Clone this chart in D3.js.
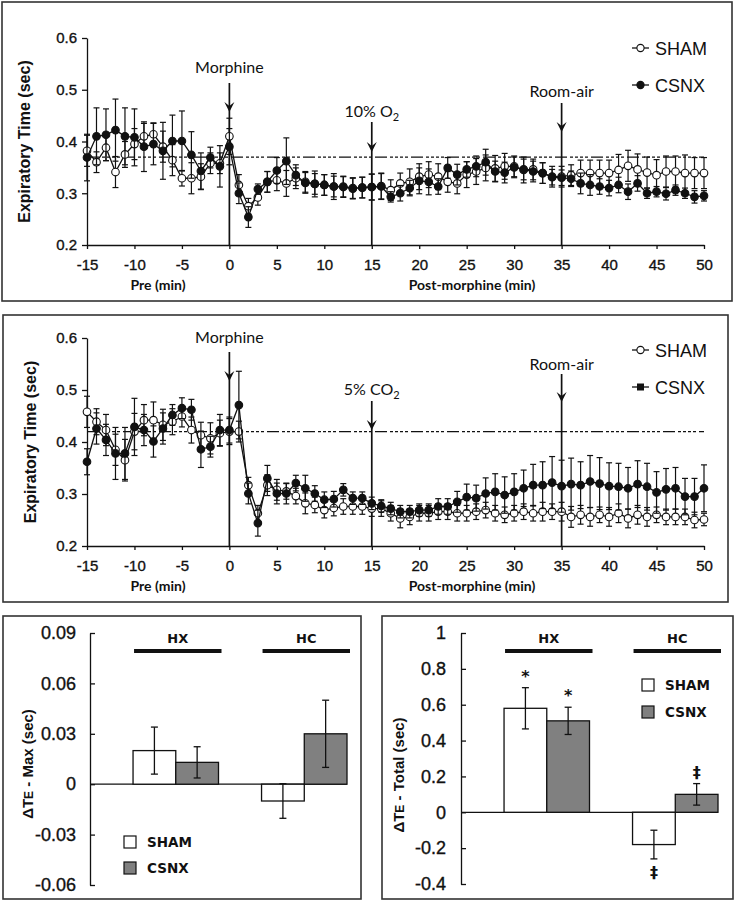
<!DOCTYPE html>
<html><head><meta charset="utf-8">
<script src="https://cdn.jsdelivr.net/npm/d3@7"></script>
<style>
body{margin:0;background:#fff}
text{font-family:"Liberation Sans",Arial,sans-serif;fill:#111}
.cal{font-family:Lato,"Open Sans",sans-serif}
.ver{font-family:"DejaVu Sans",Verdana,sans-serif}
</style>
</head><body>
<svg id="c" width="735" height="901" xmlns="http://www.w3.org/2000/svg"></svg>
<script>
// ---------------- DATA ----------------
const minutes = d3.range(-15, 51); // category axis: -15 ... 50 min
const xTicks = [-15,-10,-5,0,5,10,15,20,25,30,35,40,45,50];
const yTicksTE = [0.2,0.3,0.4,0.5,0.6];

// Panel A (10% O2)
const aSham = [0.382,0.360,0.388,0.341,0.375,0.395,0.410,0.414,0.390,0.364,0.329,0.329,0.332,0.358,0.358,0.410,
  0.316,0.275,0.292,0.322,0.325,0.319,0.329,0.322,0.318,0.316,0.313,0.313,0.310,0.311,
  0.312,0.314,0.306,0.319,0.322,0.332,0.336,0.332,0.322,0.319,0.336,0.342,0.349,0.348,0.352,0.352,0.345,0.346,0.339,0.332,0.332,0.335,0.339,0.339,0.339,0.339,0.345,0.353,0.346,0.340,0.335,0.342,0.342,0.339,0.339,0.339];
const aShamErr = [0.030,0.020,0.025,0.030,0.025,0.030,0.025,0.022,0.030,0.030,0.015,0.030,0.025,0.020,0.020,0.035,
  0.020,0.015,0.015,0.020,0.020,0.025,0.020,0.020,0.020,0.020,0.020,0.020,0.020,0.020,
  0.025,0.025,0.020,0.020,0.025,0.025,0.025,0.025,0.020,0.020,0.025,0.025,0.025,0.025,0.025,0.020,0.025,0.020,0.020,0.020,0.020,0.020,0.025,0.025,0.025,0.025,0.030,0.030,0.030,0.030,0.030,0.030,0.030,0.035,0.030,0.030];
const aCsnx = [0.369,0.410,0.413,0.422,0.410,0.408,0.390,0.395,0.382,0.401,0.401,0.374,0.343,0.369,0.352,0.390,
  0.300,0.254,0.308,0.322,0.344,0.362,0.335,0.320,0.318,0.316,0.313,0.312,0.309,0.311,
  0.312,0.313,0.293,0.300,0.310,0.324,0.322,0.313,0.349,0.336,0.346,0.352,0.360,0.342,0.340,0.350,0.346,0.342,0.339,0.331,0.330,0.328,0.319,0.316,0.313,0.310,0.316,0.303,0.319,0.300,0.303,0.299,0.306,0.300,0.293,0.295];
const aCsnxErr = [0.045,0.055,0.050,0.060,0.055,0.055,0.048,0.040,0.055,0.050,0.058,0.045,0.035,0.020,0.040,0.035,
  0.020,0.020,0.010,0.020,0.025,0.045,0.020,0.020,0.025,0.020,0.025,0.020,0.020,0.020,
  0.025,0.025,0.010,0.015,0.015,0.025,0.025,0.015,0.020,0.020,0.015,0.020,0.025,0.020,0.020,0.020,0.020,0.020,0.020,0.015,0.015,0.015,0.020,0.020,0.015,0.015,0.015,0.015,0.015,0.010,0.010,0.012,0.010,0.010,0.012,0.010];

// Panel B (5% CO2)
const bSham = [0.458,0.439,0.423,0.385,0.365,0.420,0.442,0.442,0.433,0.439,0.449,0.423,0.413,0.407,0.417,0.420,
  0.420,0.317,0.263,0.317,0.308,0.305,0.296,0.282,0.279,0.269,0.273,0.276,0.276,0.276,
  0.272,0.272,0.263,0.253,0.256,0.263,0.263,0.266,0.266,0.263,0.263,0.266,0.269,0.263,0.260,0.263,0.266,0.263,0.266,0.266,0.266,0.256,0.260,0.256,0.260,0.256,0.263,0.253,0.260,0.256,0.260,0.256,0.256,0.256,0.250,0.251];
const bShamErr = [0.030,0.025,0.030,0.030,0.040,0.035,0.030,0.035,0.030,0.025,0.020,0.025,0.025,0.030,0.025,0.025,
  0.020,0.015,0.015,0.020,0.020,0.015,0.015,0.020,0.015,0.015,0.015,0.015,0.015,0.015,
  0.015,0.015,0.015,0.018,0.015,0.015,0.015,0.015,0.015,0.015,0.015,0.015,0.015,0.015,0.015,0.015,0.015,0.015,0.018,0.015,0.018,0.020,0.018,0.018,0.015,0.018,0.018,0.018,0.018,0.018,0.015,0.015,0.015,0.015,0.015,0.012];
const bCsnx = [0.362,0.426,0.404,0.378,0.378,0.429,0.423,0.401,0.426,0.452,0.465,0.462,0.386,0.391,0.423,0.423,
  0.471,0.301,0.244,0.330,0.301,0.301,0.321,0.311,0.301,0.289,0.290,0.308,0.292,0.292,
  0.282,0.277,0.272,0.266,0.266,0.269,0.269,0.276,0.276,0.285,0.294,0.292,0.301,0.304,0.298,0.304,0.311,0.317,0.317,0.322,0.315,0.319,0.317,0.324,0.320,0.315,0.314,0.311,0.319,0.314,0.303,0.309,0.311,0.295,0.295,0.311];
const bCsnxErr = [0.025,0.030,0.030,0.050,0.050,0.055,0.030,0.030,0.030,0.020,0.020,0.020,0.035,0.020,0.030,0.025,
  0.065,0.020,0.025,0.025,0.020,0.020,0.015,0.025,0.015,0.015,0.015,0.012,0.012,0.012,
  0.012,0.012,0.012,0.012,0.012,0.012,0.012,0.015,0.015,0.020,
  0.025,0.025,0.030,0.035,0.035,0.035,0.035,0.040,0.045,0.050,0.050,0.050,0.045,0.050,0.050,0.045,0.045,0.040,0.045,0.045,0.040,0.040,0.040,0.035,0.035,0.045];

const eventTimes = [0, 15, 35];
const eventLabelsA = ["Morphine", "10% O", "Room-air"];
const eventLabelsB = ["Morphine", "5% CO", "Room-air"];
const baselineA = 0.37, baselineB = 0.42;

// Bar panels
const groups = ["HX", "HC"];
const barSeries = ["SHAM", "CSNX"];
const maxVals = [[0.020, 0.013], [-0.010, 0.030]];
const maxErrs = [[0.014, 0.0093], [0.0103, 0.020]];
const totVals = [[0.58, 0.51], [-0.18, 0.10]];
const totErrs = [[0.115, 0.076], [0.080, 0.060]];
const maxTicks = [-0.06, -0.03, 0, 0.03, 0.06, 0.09];
const maxTickLabels = ["-0.06", "-0.03", "0", "0.03", "0.06", "0.09"];
const totTicks = [-0.4, -0.2, 0, 0.2, 0.4, 0.6, 0.8, 1];
const totTickLabels = ["-0.4", "-0.2", "0", "0.2", "0.4", "0.6", "0.8", "1"];
const totMarks = [["*", "*"], ["‡", "‡"]];

// ---------------- DRAW ----------------
const svg = d3.select("#c");
const frame = (x0, y0, x1, y1) => svg.append("rect").attr("x", x0).attr("y", y0)
  .attr("width", x1 - x0).attr("height", y1 - y0).attr("fill", "none").attr("stroke", "#333").attr("stroke-width", 1.6);
frame(2, 2, 732, 301);
frame(3, 315, 728, 602);
frame(3, 616, 361, 899);
frame(382, 616, 733, 899);

function styleTicks(a, size) {
  a.selectAll("text").style("font-size", size).style("font-family", '"Liberation Sans",Arial,sans-serif')
    .attr("fill", "#111").attr("stroke", "#111").attr("stroke-width", 0.35);
  a.selectAll("path,line").attr("stroke", "#111").attr("stroke-width", 1.3);
}

function timePanel(cfg) {
  const g = svg.append("g");
  const x = d3.scaleLinear().domain([-15, 50]).range([87, 704]);
  const y = d3.scaleLinear().domain([0.2, 0.6]).range([cfg.y0, cfg.y1]);

  const ya = g.append("g").attr("transform", "translate(87,0)")
    .call(d3.axisLeft(y).tickValues(yTicksTE).tickFormat(d3.format(".1f")).tickSize(5).tickSizeOuter(0).tickPadding(5));
  styleTicks(ya, "15px");
  const xa = g.append("g").attr("transform", `translate(0,${cfg.y0})`)
    .call(d3.axisBottom(x).tickValues(xTicks).tickFormat(d => String(d)).tickSize(4).tickSizeOuter(0).tickPadding(10));
  styleTicks(xa, "15px");

  g.append("text").attr("transform", `translate(${cfg.titleX},${(cfg.y0 + cfg.y1) / 2}) rotate(-90)`)
    .attr("text-anchor", "middle").style("font-weight", "bold").style("font-size", "16px").text("Expiratory Time (sec)");
  g.append("text").attr("class", "cal").attr("x", 158).attr("y", cfg.y0 + 45).attr("text-anchor", "middle")
    .style("font-weight", "bold").style("font-size", "14px").attr("fill", "#222").text("Pre (min)");
  g.append("text").attr("class", "cal").attr("x", 472).attr("y", cfg.y0 + 45).attr("text-anchor", "middle")
    .style("font-weight", "bold").style("font-size", "14px").attr("fill", "#222").text("Post-morphine (min)");

  g.append("line").attr("x1", x(-15)).attr("x2", x(50)).attr("y1", y(cfg.baseline)).attr("y2", y(cfg.baseline))
    .attr("stroke", "#111").attr("stroke-width", 1.3).attr("stroke-dasharray", "12,3,3,2,3,2,3,2,3,3");

  eventTimes.forEach((t, i) => {
    const ex = x(t);
    g.append("line").attr("x1", ex).attr("x2", ex).attr("y1", cfg.evTop[i]).attr("y2", cfg.y0)
      .attr("stroke", "#111").attr("stroke-width", 1.7);
    const tip = cfg.evTip[i];
    g.append("path").attr("d", `M${ex - 5},${tip - 10} L${ex},${tip - 6} L${ex + 5},${tip - 10} L${ex},${tip} Z`)
      .attr("fill", "#111");
    const lab = g.append("text").attr("class", "cal").attr("x", ex).attr("y", cfg.evLabY[i]).attr("text-anchor", "middle")
      .style("font-size", "16px").attr("fill", "#222").text(cfg.labels[i]);
    if (i === 1) lab.append("tspan").attr("dy", 4).style("font-size", "11px").text("2");
  });

  const series = [
    { vals: cfg.sham, errs: cfg.shamErr, fill: "#fff" },
    { vals: cfg.csnx, errs: cfg.csnxErr, fill: "#111" }
  ];
  series.forEach(s => {
    const eg = g.append("g").attr("stroke", "#111").attr("stroke-width", 1.2);
    minutes.forEach((t, i) => {
      const cx = x(t), hi = y(s.vals[i] + s.errs[i]), lo = y(s.vals[i] - s.errs[i]);
      eg.append("line").attr("x1", cx).attr("x2", cx).attr("y1", hi).attr("y2", lo);
      eg.append("line").attr("x1", cx - 3).attr("x2", cx + 3).attr("y1", hi).attr("y2", hi);
      eg.append("line").attr("x1", cx - 3).attr("x2", cx + 3).attr("y1", lo).attr("y2", lo);
    });
    g.append("path").datum(minutes.map((t, i) => [t, s.vals[i]]))
      .attr("d", d3.line().x(d => x(d[0])).y(d => y(d[1])))
      .attr("fill", "none").attr("stroke", "#111").attr("stroke-width", 1.3);
    g.append("g").selectAll("circle").data(minutes.map((t, i) => [t, s.vals[i]])).join("circle")
      .attr("cx", d => x(d[0])).attr("cy", d => y(d[1])).attr("r", 3.8)
      .attr("fill", s.fill).attr("stroke", "#111").attr("stroke-width", 1.1);
  });

  const leg = [["SHAM", "#fff", cfg.legY[0]], ["CSNX", "#111", cfg.legY[1]]];
  leg.forEach(([name, fill, ly]) => {
    g.append("line").attr("x1", 632).attr("x2", 649).attr("y1", ly).attr("y2", ly).attr("stroke", "#111").attr("stroke-width", 1.3);
    if (name === "CSNX" && cfg.squareLegend)
      g.append("rect").attr("x", 637).attr("y", ly - 3.5).attr("width", 7).attr("height", 7).attr("fill", fill);
    else
      g.append("circle").attr("cx", 640.5).attr("cy", ly).attr("r", 3.6).attr("fill", fill).attr("stroke", "#111").attr("stroke-width", 1.1);
    g.append("text").attr("x", 655).attr("y", ly + 6.5).style("font-size", "18px").text(name);
  });
}

timePanel({ y0: 245, y1: 38, titleX: 30, baseline: baselineA, labels: eventLabelsA,
  sham: aSham, shamErr: aShamErr, csnx: aCsnx, csnxErr: aCsnxErr,
  evTop: [83, 122, 103], evTip: [112, 152, 132], evLabY: [73, 117, 97], legY: [48, 85], squareLegend: false });
timePanel({ y0: 546, y1: 338, titleX: 36, baseline: baselineB, labels: eventLabelsB,
  sham: bSham, shamErr: bShamErr, csnx: bCsnx, csnxErr: bCsnxErr,
  evTop: [352, 401, 374], evTip: [381, 430, 402], evLabY: [343, 395, 370], legY: [350, 387], squareLegend: true });

function barPanel(cfg) {
  const g = svg.append("g");
  const y = d3.scaleLinear().domain(cfg.domain).range([cfg.yb, cfg.yt]);
  const xg = d3.scaleBand().domain(groups).range([cfg.x0, cfg.x1]);
  const bw = xg.bandwidth();
  const xs = d3.scaleBand().domain(barSeries).range([bw * 0.335, bw]);

  const ya = g.append("g").attr("transform", `translate(${cfg.x0},0)`)
    .call(d3.axisLeft(y).tickValues(cfg.ticks).tickFormat((d, i) => cfg.tickLabels[i]).tickSize(-5).tickSizeOuter(0).tickPadding(cfg.pad));
  styleTicks(ya, "18px");

  g.append("line").attr("x1", cfg.x0).attr("x2", cfg.x1).attr("y1", y(0)).attr("y2", y(0)).attr("stroke", "#111").attr("stroke-width", 1.3);

  groups.forEach((grp, gi) => {
    barSeries.forEach((s, si) => {
      const v = cfg.vals[gi][si], e = cfg.errs[gi][si];
      const bx = xg(grp) + xs(s);
      g.append("rect").attr("x", bx).attr("width", xs.bandwidth())
        .attr("y", Math.min(y(v), y(0))).attr("height", Math.abs(y(v) - y(0)))
        .attr("fill", si === 0 ? "#fff" : "#808080").attr("stroke", "#111").attr("stroke-width", 1.3);
      const cx = bx + xs.bandwidth() / 2, hi = y(v + e), lo = y(v - e);
      const eg = g.append("g").attr("stroke", "#111").attr("stroke-width", 1.3);
      eg.append("line").attr("x1", cx).attr("x2", cx).attr("y1", hi).attr("y2", lo);
      eg.append("line").attr("x1", cx - 3.5).attr("x2", cx + 3.5).attr("y1", hi).attr("y2", hi);
      eg.append("line").attr("x1", cx - 3.5).attr("x2", cx + 3.5).attr("y1", lo).attr("y2", lo);
      if (cfg.marks) {
        const m = cfg.marks[gi][si];
        const my = v >= 0 ? hi - 6 : lo + 19;
        g.append("text").attr("class", "ver").attr("x", cx).attr("y", my).attr("text-anchor", "middle")
          .style("font-size", "16px").style("font-weight", "bold").text(m);
      }
    });
    const gx0 = xg(grp) + xs("SHAM") + 1, gx1 = xg(grp) + bw + 3;
    g.append("line").attr("x1", gx0).attr("x2", gx1).attr("y1", 651).attr("y2", 651).attr("stroke", "#111").attr("stroke-width", 4);
    g.append("text").attr("class", "ver").attr("x", (gx0 + gx1) / 2).attr("y", 643).attr("text-anchor", "middle")
      .style("font-size", "13px").style("font-weight", "bold").text(grp);
  });

  const t = g.append("text").attr("transform", `translate(${cfg.titleX},${cfg.titleY}) rotate(-90)`)
    .attr("text-anchor", "middle").style("font-weight", "bold").style("font-size", "15px");
  t.append("tspan").text("ΔT");
  t.append("tspan").style("font-size", "12px").text("E");
  t.append("tspan").text(cfg.title);

  barSeries.forEach((s, si) => {
    const ly = cfg.legY[si];
    g.append("rect").attr("x", cfg.legX).attr("y", ly).attr("width", 12).attr("height", 12)
      .attr("fill", si === 0 ? "#fff" : "#808080").attr("stroke", "#111").attr("stroke-width", 1.2);
    g.append("text").attr("class", "ver").attr("x", cfg.legX + 23).attr("y", ly + 11).style("font-size", "13.5px").style("font-weight", "bold").text(s);
  });
}

barPanel({ domain: [-0.06, 0.09], yb: 885, yt: 633, x0: 90, x1: 347, ticks: maxTicks, tickLabels: maxTickLabels, pad: 14,
  vals: maxVals, errs: maxErrs, titleX: 33, titleY: 764, title: " - Max (sec)", legX: 124, legY: [836, 862] });
barPanel({ domain: [-0.4, 1], yb: 884, yt: 633, x0: 461, x1: 718, ticks: totTicks, tickLabels: totTickLabels, pad: 15,
  vals: totVals, errs: totErrs, marks: totMarks, titleX: 404, titleY: 775, title: " - Total (sec)", legX: 642, legY: [679, 706] });
</script>
</body></html>
